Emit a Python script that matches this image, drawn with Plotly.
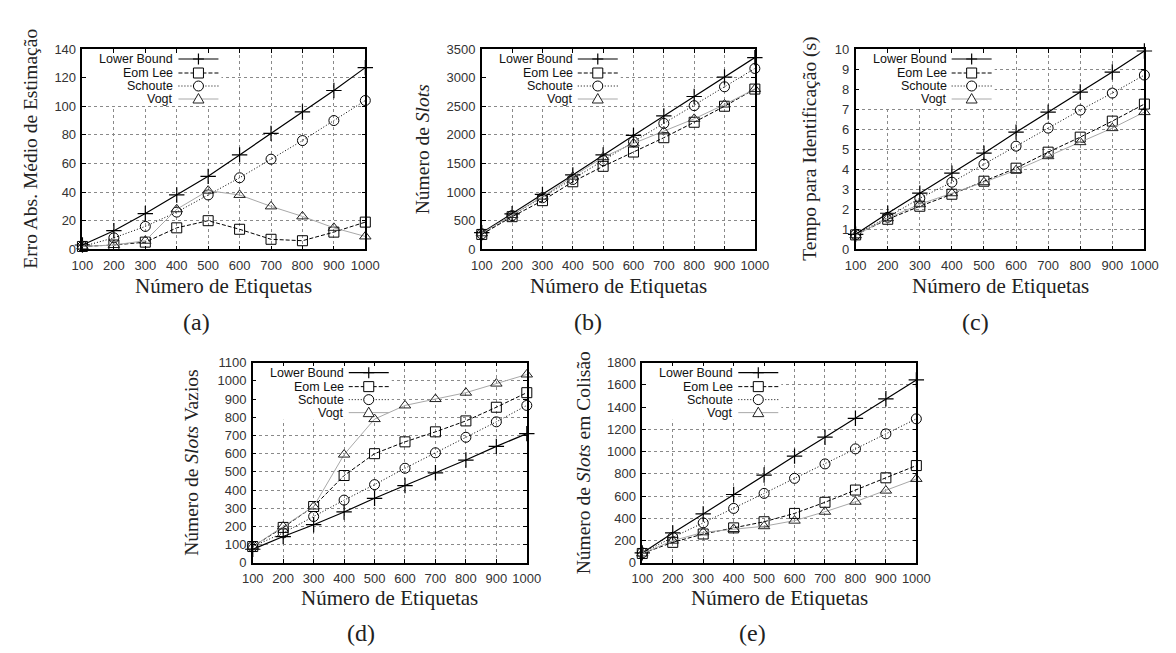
import plotly.graph_objects as go

# ---------------- data ----------------
etiquetas = [100, 200, 300, 400, 500, 600, 700, 800, 900, 1000]
series_names = ["Lower Bound", "Eom Lee", "Schoute", "Vogt"]

# (a) Erro Abs. Medio de Estimacao
a_lower = [3, 13, 25, 38, 51, 66, 81, 96, 111, 127]
a_eom = [2, 3, 5, 15, 20, 14, 7, 6, 12, 19]
a_schoute = [2, 8, 16, 26, 38, 50, 63, 76, 90, 104]
a_vogt = [2, 3, 6, 28, 41, 38, 30, 23, 15, 9]

# (b) Numero de Slots
b_lower = [290, 620, 960, 1300, 1650, 1990, 2330, 2670, 3010, 3350]
b_eom = [260, 570, 850, 1180, 1450, 1700, 1950, 2220, 2500, 2800]
b_schoute = [270, 590, 900, 1220, 1550, 1880, 2200, 2510, 2840, 3160]
b_vogt = [280, 600, 920, 1270, 1610, 1850, 2060, 2280, 2530, 2800]

# (c) Tempo para Identificacao (s)
c_lower = [0.75, 1.8, 2.8, 3.8, 4.8, 5.85, 6.85, 7.85, 8.85, 9.9]
c_eom = [0.72, 1.5, 2.15, 2.75, 3.4, 4.05, 4.85, 5.6, 6.4, 7.25]
c_schoute = [0.74, 1.6, 2.55, 3.35, 4.25, 5.15, 6.05, 6.95, 7.8, 8.7]
c_vogt = [0.7, 1.55, 2.25, 2.8, 3.35, 3.95, 4.65, 5.35, 6.05, 6.85]

# (d) Numero de Slots Vazios
d_lower = [75, 145, 210, 280, 355, 425, 495, 565, 640, 710]
d_eom = [90, 195, 310, 480, 600, 665, 720, 780, 855, 935]
d_schoute = [90, 165, 255, 345, 430, 520, 605, 690, 775, 865]
d_vogt = [90, 200, 310, 595, 790, 865, 900, 935, 985, 1035]

# (e) Numero de Slots em Colisao
e_lower = [90, 270, 440, 615, 790, 960, 1130, 1300, 1475, 1645]
e_eom = [85, 185, 260, 315, 370, 445, 545, 655, 765, 875]
e_schoute = [90, 230, 360, 490, 625, 760, 890, 1025, 1160, 1295]
e_vogt = [85, 200, 275, 305, 330, 380, 460, 550, 650, 755]

x_tick_labels = [str(v) for v in etiquetas]

# ---------------- layout config ----------------
W, H = 1176, 653

panels = [
    dict(series=[a_lower, a_eom, a_schoute, a_vogt], yrange=[0, 140], dtick=20,
         ytitle="Erro Abs. Médio de Estimação", px=(73, 362), py=(43, 248),
         ytitle_x=20, xtitle_y=286, label="(a)", label_xy=(190, 322)),
    dict(series=[b_lower, b_eom, b_schoute, b_vogt], yrange=[0, 3500], dtick=500,
         ytitle="Número de <i>Slots</i>", px=(481, 760), py=(43, 248),
         ytitle_x=420, xtitle_y=286, label="(b)", label_xy=(590, 322)),
    dict(series=[c_lower, c_eom, c_schoute, c_vogt], yrange=[0, 10], dtick=1,
         ytitle="Tempo para Identificação (s)", px=(863, 1158), py=(43, 248),
         ytitle_x=817, xtitle_y=286, label="(c)", label_xy=(985, 322)),
    dict(series=[d_lower, d_eom, d_schoute, d_vogt], yrange=[0, 1100], dtick=100,
         ytitle="Número de <i>Slots</i> Vazios", px=(247, 527), py=(364, 569),
         ytitle_x=185, xtitle_y=605, label="(d)", label_xy=(358, 641)),
    dict(series=[e_lower, e_eom, e_schoute, e_vogt], yrange=[0, 1800], dtick=200,
         ytitle="Número de <i>Slots</i> em Colisão", px=(645, 925), py=(364, 569),
         ytitle_x=585, xtitle_y=605, label="(e)", label_xy=(758, 641)),
]

styles = [
    dict(line=dict(color="black", width=1.2), marker=dict(symbol="cross-thin-open", size=11, color="black", line=dict(width=1.2, color="black"))),
    dict(line=dict(color="black", width=1, dash="4px,2px"), marker=dict(symbol="square-open", size=10, color="black", line=dict(width=1))),
    dict(line=dict(color="black", width=1, dash="1px,2px"), marker=dict(symbol="circle-open", size=10, color="black", line=dict(width=1))),
    dict(line=dict(color="#a8a8a8", width=1), marker=dict(symbol="triangle-up-open", size=10, color="#222222", line=dict(width=1))),
]

SANS = "Liberation Sans"
SERIF = "Liberation Serif"

fig = go.Figure()
annotations = []
shapes = []

for i, p in enumerate(panels):
    n = i + 1
    xs = "" if n == 1 else str(n)
    xname, yname = "x" + xs, "y" + xs
    for name, vals, st in zip(series_names, p["series"], styles):
        fig.add_trace(go.Scatter(
            x=etiquetas, y=vals, name=name, mode="lines+markers",
            line=st["line"], marker=st["marker"], xaxis=xname, yaxis=yname,
            showlegend=False, cliponaxis=False))

    x0, x1 = p["px"][0] / W, p["px"][1] / W
    y0, y1 = 1 - p["py"][1] / H, 1 - p["py"][0] / H
    common = dict(showline=True, linecolor="black", linewidth=1.5, mirror="ticks",
                  ticks="inside", ticklen=4, tickcolor="black",
                  showgrid=True, gridcolor="#8a8a8a", griddash="dot", gridwidth=1,
                  zeroline=False, tickfont=dict(family=SANS, size=13, color="#333333"))
    fig.layout["xaxis" + xs] = dict(domain=[x0, x1], anchor=yname, range=[100, 1000],
                                    tickmode="array", tickvals=etiquetas, ticktext=x_tick_labels,
                                    ticklabelstandoff=3, **common)
    fig.layout["yaxis" + xs] = dict(domain=[y0, y1], anchor=xname, range=p["yrange"],
                                    dtick=p["dtick"], tick0=0, ticklabelstandoff=2, **common)

    # axis titles
    annotations.append(dict(text=p["ytitle"], xref="paper", yref="paper",
                            x=p["ytitle_x"] / W, y=1 - (p["py"][0] + p["py"][1]) / 2 / H,
                            textangle=-90, showarrow=False, xanchor="center", yanchor="middle",
                            font=dict(family=SERIF, size=19.5, color="#222222")))
    annotations.append(dict(text="Número de Etiquetas", xref="paper", yref="paper",
                            x=(p["px"][0] + p["px"][1]) / 2 / W, y=1 - p["xtitle_y"] / H,
                            showarrow=False, xanchor="center", yanchor="middle",
                            font=dict(family=SERIF, size=21, color="#222222")))
    annotations.append(dict(text=p["label"], xref="paper", yref="paper",
                            x=p["label_xy"][0] / W, y=1 - p["label_xy"][1] / H,
                            showarrow=False, xanchor="center", yanchor="middle",
                            font=dict(family=SERIF, size=24, color="#222222")))

    # gnuplot-style key (text right-aligned, sample on the right)
    # opaque key background: between gridlines and traces
    shapes.append(dict(type="rect", xref=xname, yref=yname, xsizemode="pixel", ysizemode="pixel",
                       xanchor=100, yanchor=p["yrange"][1], x0=2, x1=139, y0=-2, y1=-57,
                       fillcolor="white", line=dict(width=0), layer="between"))
    xr, yr = xname + " domain", yname + " domain"
    row_offsets = [10, 24, 37, 50]
    for name, st, ro in zip(series_names, styles, row_offsets):
        annotations.append(dict(text=name, xref=xr, yref=yr, x=0, y=1, xshift=93, yshift=-ro,
                                xanchor="right", yanchor="middle", showarrow=False,
                                font=dict(family=SANS, size=12.5, color="#111111")))
        ln = st["line"]
        shapes.append(dict(type="line", xref=xr, yref=yr, xsizemode="pixel", ysizemode="pixel",
                           xanchor=0, yanchor=1, x0=96, x1=136, y0=-ro, y1=-ro,
                           line=dict(color=ln["color"], width=ln["width"], dash=ln.get("dash", "solid")),
                           layer="above"))
        cx, cy = 116, -ro
        mcol = st["marker"]["color"]
        sym = st["marker"]["symbol"]
        base = dict(xref=xr, yref=yr, xsizemode="pixel", ysizemode="pixel", xanchor=0, yanchor=1,
                    layer="above")
        if sym.startswith("cross"):
            shapes.append(dict(type="path", path=f"M{cx-5.5},{cy} L{cx+5.5},{cy} M{cx},{cy-5.5} L{cx},{cy+5.5}",
                               line=dict(color=mcol, width=1.2), **base))
        elif sym.startswith("square"):
            shapes.append(dict(type="rect", x0=cx - 5, x1=cx + 5, y0=cy - 5, y1=cy + 5,
                               fillcolor="white", line=dict(color=mcol, width=1), **base))
        elif sym.startswith("circle"):
            shapes.append(dict(type="circle", x0=cx - 5, x1=cx + 5, y0=cy - 5, y1=cy + 5,
                               fillcolor="white", line=dict(color=mcol, width=1), **base))
        else:
            shapes.append(dict(type="path", path=f"M{cx},{cy+5.5} L{cx+5.5},{cy-4} L{cx-5.5},{cy-4} Z",
                               fillcolor="white", line=dict(color=mcol, width=1), **base))

fig.update_layout(width=W, height=H, margin=dict(l=0, r=0, t=0, b=0),
                  paper_bgcolor="white", plot_bgcolor="white",
                  annotations=annotations, shapes=shapes, showlegend=False)

fig.write_html("out.html", config={"displayModeBar": False},
               post_script="document.body.style.margin='0';document.body.style.overflow='hidden';")
